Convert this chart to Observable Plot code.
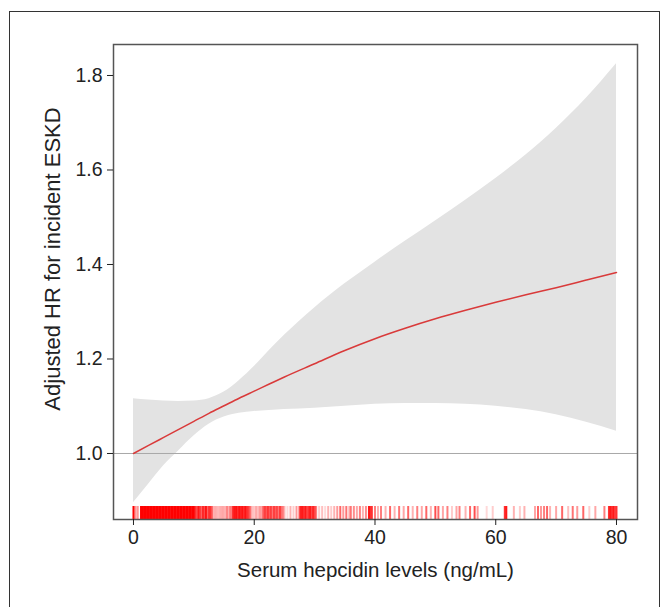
<!DOCTYPE html>
<html>
<head>
<meta charset="utf-8">
<script src="https://cdn.jsdelivr.net/npm/d3@7"></script>
<script src="https://cdn.jsdelivr.net/npm/@observablehq/plot@0.6"></script>
<style>
  html, body { margin: 0; padding: 0; background: #fff; overflow: hidden; width: 665px; height: 607px; }
  #outer { position: absolute; left: 9px; top: 11px; width: 651px; height: 640px; border: 1.5px solid #333; box-sizing: border-box; }
  #chart { position: absolute; left: 0; top: 0; }
</style>
</head>
<body>
<div id="outer"></div>
<div id="chart"></div>
<script>
// Spline estimate and 95% CI
const xs    = [0, 2.5, 5, 7.5, 10, 12.5, 15, 17.5, 20, 22.5, 25, 30, 35, 40, 45, 50, 55, 60, 65, 70, 75, 80];
const hr    = [1.000, 1.017, 1.034, 1.051, 1.068, 1.085, 1.101, 1.117, 1.132, 1.147, 1.162, 1.190, 1.218, 1.243, 1.265, 1.285, 1.303, 1.320, 1.336, 1.351, 1.367, 1.383];
const lower = [0.896, 0.935, 0.974, 1.006, 1.037, 1.062, 1.077, 1.085, 1.089, 1.091, 1.093, 1.096, 1.100, 1.104, 1.106, 1.106, 1.104, 1.100, 1.093, 1.082, 1.066, 1.047];
const upper = [1.116, 1.113, 1.111, 1.110, 1.111, 1.116, 1.130, 1.154, 1.184, 1.218, 1.250, 1.308, 1.359, 1.405, 1.449, 1.492, 1.536, 1.582, 1.632, 1.688, 1.752, 1.825];

// Rug of observed hepcidin values (position, density weight)
const rugX = [0, 0.25, 0.5, 0.75, 1.25, 1.5, 1.75, 2, 2.25, 2.5, 2.75, 3, 3.25, 3.5, 3.75, 4, 4.25, 4.5, 4.75, 5, 5.25, 5.5, 5.75, 6, 6.25, 6.5, 6.75, 7, 7.25, 7.5, 7.75, 8, 8.25, 8.5, 8.75, 9, 9.25, 9.5, 9.75, 10,
  10.25, 10.5, 10.75, 11, 11.25, 11.5, 11.75, 12, 12.25, 12.5, 12.75, 13,
  13.25, 13.5, 13.75, 14, 14.25, 14.5, 14.75, 15, 15.25, 15.5, 15.75, 16, 16.25,
  16.5, 16.75, 17, 17.25, 17.5, 17.75, 18, 18.25, 18.5, 18.75, 19, 19.25,
  19.5, 19.75, 20, 20.25, 20.5, 20.75, 21, 21.25,
  21.5, 21.75, 22, 22.25, 22.5, 22.75, 23, 23.25, 23.5, 23.75, 24, 24.25, 24.5, 24.75,
  25, 25.5, 26, 26.5, 27,
  27.5, 27.75, 28, 28.25, 28.5, 28.75, 29, 29.25, 29.5, 29.75, 30, 30.25,
  30.75, 31.25, 31.75, 32.25, 32.75, 33.25, 33.75,
  34.25, 34.75, 35.25, 35.75, 36, 36.5, 37, 37.5, 38, 38.5,
  39, 39.25, 39.5, 40,
  40.5, 41, 41.75, 42.5, 43.25, 44, 44.75, 45.5, 46.25, 47, 47.75, 48.5, 49.25, 50, 50.5, 51.25, 52, 52.75, 53.5, 54, 55, 55.75, 56.5, 57,
  58.5, 59.5, 61.5, 61.75,
  63, 64, 64.75, 66.5, 67, 67.5, 68, 68.5, 69, 70, 71, 72, 72.75, 73.5, 74.5, 75.5, 76.5, 78, 78.75, 79, 79.25, 79.5, 79.75, 80];
const rugW = [1, 0.3, 0.3, 0.3, 1, 1, 1, 1, 1, 1, 1, 1, 1, 1, 1, 1, 1, 1, 1, 1, 1, 1, 1, 1, 1, 1, 1, 1, 1, 1, 1, 1, 1, 1, 1, 1, 1, 1, 1, 1,
  0.8, 0.6, 0.9, 0.7, 0.6, 0.8, 0.7, 0.9, 0.6, 0.7, 0.8, 0.5,
  0.3, 0.2, 0.3, 0.15, 0.3, 0.2, 0.35, 0.2, 0.3, 0.4, 0.3, 0.4, 0.5,
  0.8, 0.9, 0.9, 0.8, 0.9, 0.85, 0.9, 0.8, 0.9, 0.8, 0.7, 0.6,
  0.3, 0.2, 0.15, 0.3, 0.2, 0.25, 0.35, 0.3,
  0.6, 0.7, 0.6, 0.75, 0.6, 0.7, 0.5, 0.7, 0.6, 0.65, 0.5, 0.7, 0.55, 0.4,
  0.3, 0.15, 0.3, 0.2, 0.4,
  0.7, 0.8, 0.9, 0.7, 0.9, 0.6, 0.8, 0.85, 0.7, 0.8, 0.7, 0.5,
  0.2, 0.25, 0.15, 0.3, 0.2, 0.3, 0.4,
  0.6, 0.4, 0.55, 0.3, 0.5, 0.45, 0.35, 0.5, 0.3, 0.45,
  0.9, 0.8, 0.7, 0.5,
  0.3, 0.5, 0.3, 0.6, 0.3, 0.55, 0.35, 0.6, 0.3, 0.5, 0.35, 0.6, 0.3, 0.7, 0.6, 0.35, 0.5, 0.2, 0.35, 0.5, 0.3, 0.6, 0.7, 0.4,
  0.15, 0.2, 0.8, 0.9,
  0.3, 0.2, 0.3, 0.35, 0.6, 0.4, 0.5, 0.6, 0.3, 0.35, 0.6, 0.25, 0.55, 0.4, 0.6, 0.2, 0.35, 0.5, 0.8, 0.9, 0.7, 0.9, 0.6, 0.8];

const xTicks = [0, 20, 40, 60, 80];
const yTicks = [1.0, 1.2, 1.4, 1.6, 1.8];
const xLabel = "Serum hepcidin levels (ng/mL)";
const yLabel = "Adjusted HR for incident ESKD";

const curve = xs.map((x, i) => ({x, hr: hr[i], lo: lower[i], hi: upper[i]}));
const rug = rugX.map((x, i) => ({x, w: rugW[i]}));

const W = 665, H = 607, mT = 44, mB = 88, mL = 113, mR = 28;
const rugLen = 13;

const chart = Plot.plot({
  width: W,
  height: H,
  marginTop: mT,
  marginBottom: mB,
  marginLeft: mL,
  marginRight: mR,
  style: {fontFamily: "'Liberation Sans', Arial, sans-serif", fontSize: "19px", color: "#222", background: "transparent"},
  x: {domain: [-3.31, 83.48]},
  y: {domain: [0.8603, 1.8656]},
  marks: [
    Plot.areaY(curve, {x: "x", y1: "lo", y2: "hi", fill: "#e3e3e3", curve: "monotone-x"}),
    Plot.ruleY([1.0], {stroke: "#a8a8a8", strokeWidth: 1}),
    Plot.lineY(curve, {x: "x", y: "hr", stroke: "#d93a3a", strokeWidth: 1.5, curve: "monotone-x"}),
    Plot.tickX(rug, {x: "x", stroke: "#ff0000", strokeOpacity: "w", strokeWidth: 2, insetTop: H - mT - mB - rugLen}),
    Plot.frame({stroke: "#555", strokeWidth: 1.5}),
    Plot.axisX({ticks: xTicks, tickSize: 6, tickPadding: 5, tickFormat: d => d, fontSize: 19.5, label: null}),
    Plot.axisX({ticks: [], tickSize: 0, label: xLabel, labelAnchor: "center", labelArrow: "none", labelOffset: 57, fontSize: 20.5}),
    Plot.axisY({ticks: yTicks, tickSize: 6, tickPadding: 5, tickFormat: d => d.toFixed(1), fontSize: 19.5, label: null}),
    Plot.text([yLabel], {frameAnchor: "left", rotate: -90, dx: -61, dy: -23, fontSize: 22, fill: "#222", textAnchor: "middle"})
  ]
});
document.getElementById("chart").appendChild(chart);
</script>
</body>
</html>
